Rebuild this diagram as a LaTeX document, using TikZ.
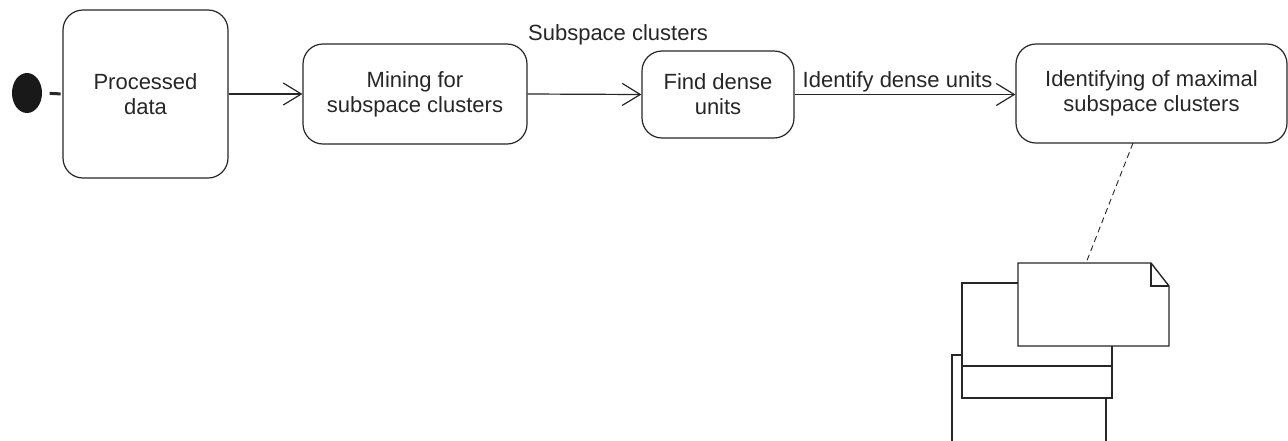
\documentclass[tikz,border=0pt]{standalone}
\usepackage{fontspec}
\setmainfont{Liberation Sans}
\usetikzlibrary{arrows.meta,shapes.geometric}
\begin{document}
\begin{tikzpicture}[x=0.5pt,y=-0.5pt,
  font=\fontsize{11}{12.6}\selectfont,
  line width=0.6pt, color=black!85,
  state/.style={draw, rectangle, rounded corners=10pt, align=center, inner sep=0pt},
  flow/.style={-{Straight Barb[length=9pt,width=11pt,line width=0.6pt]}},
  lbl/.style={anchor=base, inner sep=0pt},
  sheet/.style={draw, line width=0.7pt, fill=white}]
\useasboundingbox (0,0) rectangle (1288,440);

% initial state and the activity states
\node[ellipse, fill=black!90, minimum width=15pt, minimum height=20pt, inner sep=0pt] (init) at (27,93) {};
\node[state, minimum width=82.5pt, minimum height=84pt] (pd) at (145.5,94) {Processed\\data};
\node[state, minimum width=112pt, minimum height=50pt] (mine) at (415,94) {Mining for\\subspace clusters};
\node[state, minimum width=76pt, minimum height=43.5pt] (find) at (718,94.5) {Find dense\\units};
\node[state, minimum width=135.5pt, minimum height=49.5pt] (ident) at (1151.5,93.5) {Identifying of maximal\\subspace clusters};

% transitions
\draw[line width=1.5pt, dash pattern=on 0pt off 3.5pt on 5.5pt off 10pt] (init.east) -- (pd.west);
\draw[flow] (pd.east) -- (mine.west);
\draw[flow] (mine.east) -- (find.west);
\draw[flow] (find.east) -- (ident.west |- find.east);
\node[lbl] (lsub) at (618,40) {Subspace clusters};
\node[lbl] (lden) at (897.5,87) {Identify dense units};

% stacked documents
\draw[sheet] (952,441) -- (952,355) -- (1106,355) -- (1106,441);
\draw[sheet] (962,283) rectangle (1112,398);
\draw (962,366) -- (1112,366);
\draw[sheet] (1018,263) -- (1151,263) -- (1169,286) -- (1169,346) -- (1018,346) -- cycle;
\draw (1151,263) -- (1151,286) -- (1169,286);
\coordinate (doc) at (1086,263);

% note link
\draw[line width=0.45pt, dash pattern=on 3pt off 2pt] (1133,143) -- (doc);
\end{tikzpicture}
\end{document}
